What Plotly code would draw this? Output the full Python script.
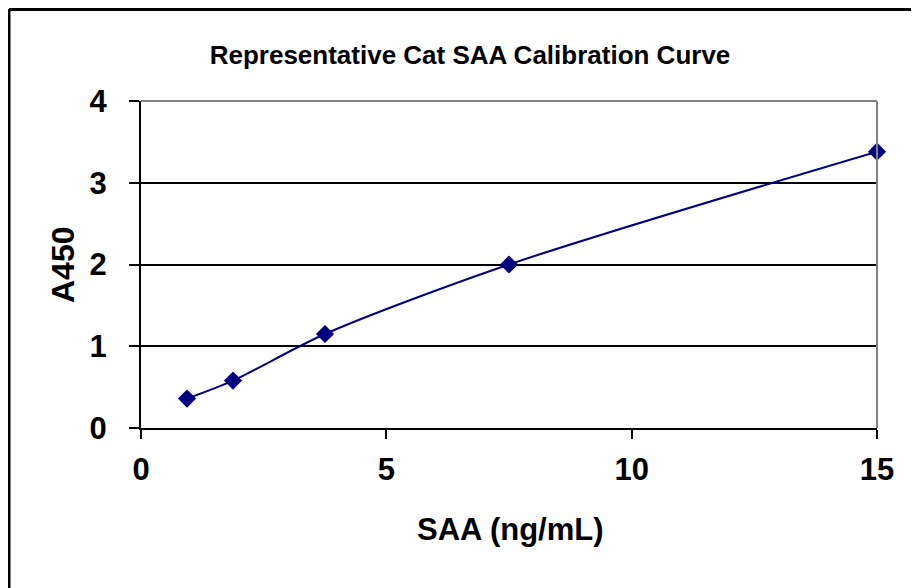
import plotly.graph_objects as go

saa_conc = [0.9375, 1.875, 3.75, 7.5, 15]
a450 = [0.36, 0.58, 1.15, 2.0, 3.38]
x_ticks = [0, 5, 10, 15]
y_ticks = [0, 1, 2, 3, 4]

FONT = "Liberation Sans, Arial, Helvetica, sans-serif"
OFF = 8  # page body margin offset
W, H = 919 - OFF, 588 - OFF
# plot area in page pixels: left 141, right 877, top 101, bottom 428
L, T = 141 - OFF, 101 - OFF
R = W - (877 - OFF)
B = H - (428 - OFF)
pw, ph = W - L - R, H - T - B

def px_x(p):
    return (p - OFF - L) / pw

def px_y(p):
    return (H - B - (p - OFF)) / ph

fig = go.Figure()
fig.add_trace(go.Scatter(
    x=saa_conc, y=a450, mode="lines+markers",
    line=dict(color="#000080", width=2, shape="spline", smoothing=0.8),
    marker=dict(symbol="diamond", size=14, color="#000080"),
    showlegend=False, cliponaxis=False,
))

tickfont = dict(size=31, family=FONT, color="black", weight="bold")

fig.update_layout(
    width=W, height=H,
    margin=dict(l=L, r=R, t=T, b=B),
    paper_bgcolor="white", plot_bgcolor="white",
    font=dict(family=FONT, color="black"),
    title=dict(text="<b>Representative Cat SAA Calibration Curve</b>",
               x=(470 - OFF) / W, xanchor="center", y=1 - (55 - OFF) / H,
               yanchor="middle",
               font=dict(size=26, family=FONT, color="black")),
    xaxis=dict(range=[0, 15], tickvals=x_ticks, ticks="outside", ticklen=9,
               tickwidth=2, tickcolor="black", showline=True, linecolor="black",
               linewidth=2, showgrid=False, zeroline=False,
               tickfont=tickfont, ticklabelstandoff=4),
    yaxis=dict(range=[0, 4], tickvals=y_ticks, ticks="outside", ticklen=10,
               tickwidth=2, tickcolor="black", showline=True, linecolor="black",
               linewidth=2, showgrid=True, gridcolor="black", gridwidth=2,
               zeroline=False, tickfont=tickfont, ticklabelstandoff=16),
)

# gray top & right borders of plot area
fig.add_shape(type="line", xref="paper", yref="paper", x0=0, x1=1, y0=1, y1=1,
              line=dict(color="#808080", width=2), layer="above")
fig.add_shape(type="line", xref="paper", yref="paper", x0=1, x1=1, y0=0, y1=1,
              line=dict(color="#808080", width=2), layer="above")

# outer black frame (left and top visible)
fig.add_shape(type="line", xref="paper", yref="paper",
              x0=px_x(9), x1=px_x(9), y0=px_y(9), y1=px_y(700),
              line=dict(color="black", width=3), layer="above")
fig.add_shape(type="line", xref="paper", yref="paper",
              x0=px_x(9), x1=px_x(1000), y0=px_y(9.5), y1=px_y(9.5),
              line=dict(color="black", width=3), layer="above")

# axis titles
fig.add_annotation(text="<b>SAA (ng/mL)</b>", xref="paper", yref="paper",
                   x=px_x(510), y=px_y(529), xanchor="center", yanchor="middle",
                   showarrow=False, font=dict(size=31, family=FONT, color="black"))
fig.add_annotation(text="<b>A450</b>", xref="paper", yref="paper",
                   x=px_x(63), y=px_y(265), xanchor="center", yanchor="middle",
                   textangle=-90, showarrow=False,
                   font=dict(size=32, family=FONT, color="black"))

fig.write_html("out.html")
